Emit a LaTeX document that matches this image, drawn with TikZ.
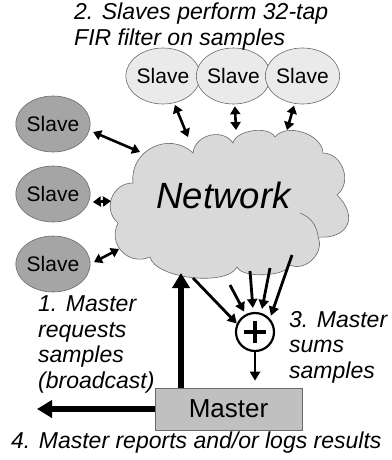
\documentclass[tikz,border=0pt]{standalone}
\usepackage{fontspec}
\setmainfont{Liberation Sans}
\usetikzlibrary{arrows.meta,shapes.geometric}
\definecolor{Cl}{RGB}{217,217,217}
\definecolor{Lt}{RGB}{234,234,234}
\definecolor{Dk}{RGB}{165,165,165}
\definecolor{Bx}{RGB}{192,192,192}
\definecolor{Ln}{RGB}{105,105,105}
\tikzset{
  slave/.style={ellipse, draw=Ln, line width=0.6pt, minimum width=62pt,
    minimum height=56pt, inner sep=0pt, font=\fontsize{21}{21}\selectfont},
  dbl/.style={{Triangle[length=8pt,width=10pt]}-{Triangle[length=8pt,width=10pt]},
    line width=2.6pt},
  sig/.style={-{Triangle[length=9pt,width=10pt]}, line width=2.8pt},
  big/.style={-{Triangle[length=15pt,width=17pt]}, line width=6pt},
  lbl/.style={anchor=base west, inner sep=0pt, align=left,
    font=\fontsize{23}{25.5}\selectfont\itshape}
}
\begin{document}
\begin{tikzpicture}[x=1pt,y=-1pt]
    \useasboundingbox (0,0) rectangle (391,460);

    % the cloud
    \draw[draw=Ln, fill=Cl, line width=0.6pt]
        (133,183) to[bend left=70, looseness=1.25] (193,153)
        to[bend left=70, looseness=1.15] (233,143)
        to[bend left=70, looseness=0.8] (275,137)
        to[bend left=70, looseness=0.95] (323,153)
        to[bend left=70, looseness=1.15] (337,195)
        to[bend left=70, looseness=1.7] (318,237)
        to[bend left=70, looseness=1.1] (290,265)
        to[bend left=70, looseness=0.6] (237,267)
        to[bend left=70, looseness=0.65] (150,257)
        to[bend left=70, looseness=1.3] (118,223)
        to[bend left=70, looseness=1.25] (133,183) -- cycle;
    \draw[Ln, line width=0.6pt] (300,213) to[bend left=30] (318,236);
    \node[inner sep=0pt, anchor=base, font=\fontsize{36.5}{36.5}\selectfont\itshape]
        (net) at (223.5,208) {Network};

    % slaves
    \node[slave, fill=Lt] (ts1) at (163,76) {Slave};
    \node[slave, fill=Lt] (ts2) at (233.5,76) {Slave};
    \node[slave, fill=Lt] (ts3) at (302.5,76) {Slave};
    \node[slave, fill=Dk] (ls1) at (53,124) {Slave};
    \node[slave, fill=Dk] (ls2) at (53,194) {Slave};
    \node[slave, fill=Dk] (ls3) at (53,264) {Slave};

    % points on the cloud
    \coordinate (c1) at (188,137);
    \coordinate (c2) at (236,130);
    \coordinate (c3) at (287,130);
    \coordinate (c4) at (140,152);
    \coordinate (c5) at (111,201);
    \coordinate (c6) at (119,249);

    \draw[dbl, shorten <=2pt] (ts1) -- (c1);
    \draw[dbl, shorten <=2pt] (ts2) -- (c2);
    \draw[dbl, shorten <=2pt] (ts3) -- (c3);
    \draw[dbl, shorten <=4pt] (ls1.-10) -- (c4);
    \draw[dbl, shorten <=4pt] (ls2.-13) -- (c5);
    \draw[dbl, shorten <=4pt] (ls3.east) -- (c6);

    % master and sum
    \node[draw=Ln, fill=Bx, line width=0.6pt, minimum width=147pt, minimum height=42pt,
        font=\fontsize{26}{26}\selectfont] (master) at (228.5,409) {Master};
    \node[circle, draw, line width=2.2pt, minimum size=38pt, inner sep=0pt] (sum) at (255,332) {};
    \draw[line width=4.5pt] ([xshift=-11pt]sum.center) -- ([xshift=11pt]sum.center);
    \draw[line width=4.5pt] ([yshift=-11pt]sum.center) -- ([yshift=11pt]sum.center);

    \coordinate (d1) at (193,278);
    \coordinate (d2) at (230,285);
    \coordinate (d3) at (250,271);
    \coordinate (d4) at (270,268);
    \coordinate (d5) at (292,255);
    \draw[sig] (d1) -- (sum.155);
    \draw[sig, shorten >=3pt] (d2) -- (sum.118);
    \draw[sig, shorten >=4pt] (d3) -- (sum.95);
    \draw[sig, shorten >=4pt] (d4) -- (sum.72);
    \draw[sig, shorten >=3pt] (d5) -- (sum.42);
    \draw[sig, shorten >=7pt] (sum.south) -- (sum.south |- master.north);

    \coordinate (up) at (181,273);
    \coordinate (out) at (37,409);
    \draw[big] (master.north -| up) -- (up);
    \draw[big] (master.west) -- (out);

    % labels (base = last line)
    \node[lbl] (t2) at (74,45.5) {2. Slaves perform 32-tap\\FIR filter on samples};
    \node[lbl] (t1) at (38,388) {1. Master\\requests\\samples\\(broadcast)};
    \node[lbl] (t3) at (289,378) {3. Master\\sums\\samples};
    \node[lbl] (t4) at (11,448) {4. Master reports and/or logs results};
\end{tikzpicture}
\end{document}
